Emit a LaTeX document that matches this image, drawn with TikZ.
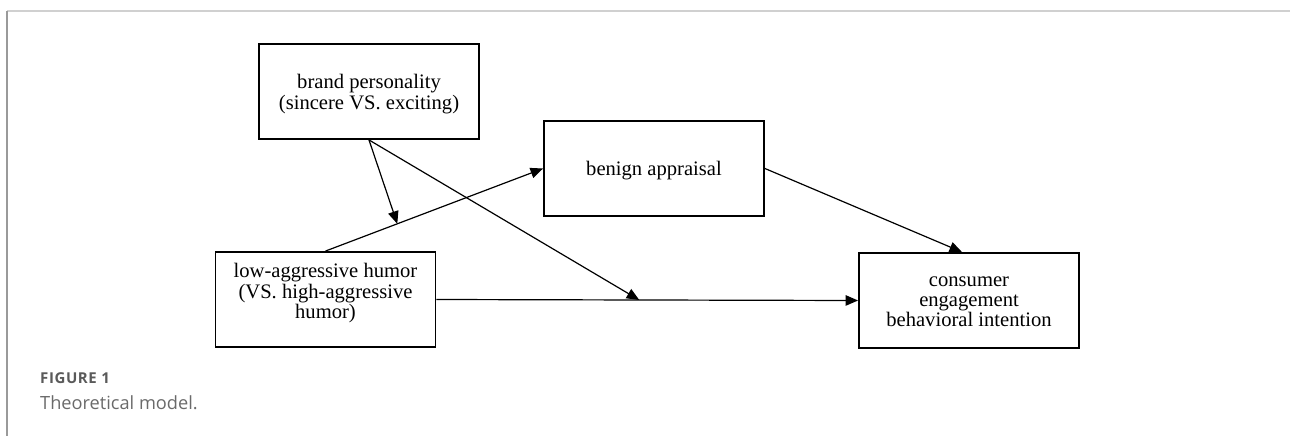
\documentclass[tikz,border=0pt]{standalone}
\usepackage{fontspec}
\setmainfont{Liberation Serif}
\newfontfamily\capfont{Open Sans}
\newfontfamily\capfontsp[LetterSpace=4]{Open Sans}
\usetikzlibrary{arrows.meta,calc}
\definecolor{frametop}{HTML}{D0D0D0}
\definecolor{frameleft}{HTML}{9A9A9A}
\definecolor{capdark}{HTML}{5A5A5A}
\definecolor{caplight}{HTML}{6A6A6A}
\tikzset{
  box/.style={draw=black, line width=1.9pt, minimum width=220pt, minimum height=95pt, inner sep=0pt},
  txt/.style={anchor=base, inner sep=0pt, font=\fontsize{20.6}{20.8}\selectfont},
  conn/.style={line width=1.2pt, -{Triangle[length=12.5pt,width=10.5pt]}},
}
\newcommand{\ctext}[1]{\begin{tabular}[t]{@{}c@{}}#1\end{tabular}}
\begin{document}
\begin{tikzpicture}[x=1pt,y=-1pt]
\useasboundingbox (0,0) rectangle (1290,436);
% frame
\coordinate (fc) at (7,10.8);
\coordinate (fr) at (1290,10.8);
\coordinate (fb) at (7,436);
\draw[frametop, line width=2pt] (fc) -- (fr);
\draw[frameleft, line width=1.5pt] (fc) -- (fb);
% boxes
\node[box] (bp)  at (369,91.5) {};
\node[box] (ben) at (654,168.5) {};
\node[box] (hum) at (325.5,299.5) {};
\node[box] (con) at (969,300.5) {};
% texts
\node[txt] (bpt)  at (369,88.3) {\ctext{brand personality\\(sincere VS. exciting)}};
\node[txt] (bent) at (654,175) {benign appraisal};
\node[txt] (humt) at (325.5,277.3) {\ctext{low-aggressive humor\\(VS. high-aggressive\\humor)}};
\node[txt,font=\fontsize{20.6}{20.4}\selectfont] (cont) at (969,286) {\ctext{consumer\\engagement\\behavioral intention}};
% connectors
\coordinate (m1) at ($(hum.north)!0.33!(ben.west)$);
\coordinate (m2) at ($(hum.east)!0.481!(con.west)$);
\coordinate (ct) at ($(con.north)+(-7,0)$);
\draw[conn] (hum.north) -- (ben.west);
\draw[conn] (bp.south) -- (m1);
\draw[conn] (bp.south) -- (m2);
\draw[conn] (hum.east) -- (con.west);
\draw[conn] (ben.east) -- (ct);
% caption
\node[anchor=base west, inner sep=0pt, text=capdark, font=\capfontsp\bfseries\fontsize{15}{18}\selectfont] (fig) at (40,383) {FIGURE 1};
\node[anchor=base west, inner sep=0pt, text=caplight, font=\capfont\fontsize{18.2}{22}\selectfont] (cap) at (40,409) {Theoretical model.};
\end{tikzpicture}
\end{document}
